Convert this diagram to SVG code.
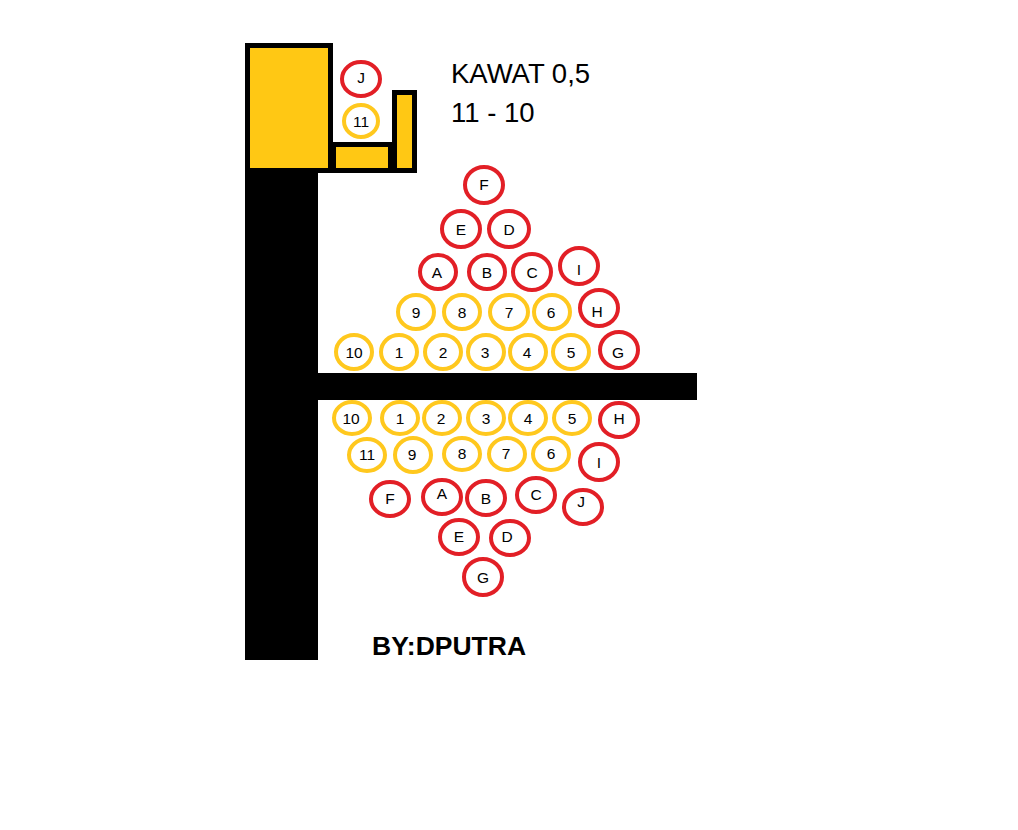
<svg xmlns="http://www.w3.org/2000/svg" width="1018" height="830" viewBox="0 0 1018 830">
<style>
.y{fill:none;stroke:#ffc81e;stroke-width:4}
.r{fill:none;stroke:#e21f26;stroke-width:4}
.t{font-family:"Liberation Sans",Arial,sans-serif;font-size:15.5px;fill:#000;text-anchor:middle;dominant-baseline:central}
.h{font-family:"Liberation Sans",Arial,sans-serif;font-size:27.5px;fill:#000}
</style>
<rect width="1018" height="830" fill="#fff"/>
<g id="frame">
<rect x="245" y="172" width="73" height="488" fill="#000"/>
<rect x="318" y="373" width="379" height="27" fill="#000"/>
<rect x="247.5" y="45.5" width="83" height="125" fill="#ffc814" stroke="#000" stroke-width="5"/>
<rect x="333.5" y="144.5" width="57" height="26" fill="#ffc814" stroke="#000" stroke-width="5"/>
<rect x="394.5" y="92.5" width="20" height="78" fill="#ffc814" stroke="#000" stroke-width="5"/>
</g>
<g id="title">
<text class="h" x="451" y="83">KAWAT 0,5</text>
<text class="h" x="451" y="122">11 - 10</text>
<text class="h" x="372" y="655" style="font-weight:bold;font-size:26.5px">BY:DPUTRA</text>
</g>
<g id="top-spare">
<g id="tJ"><ellipse class="r" cx="361" cy="79" rx="19" ry="17"/><text class="t" x="361" y="77">J</text></g>
<g id="t11"><ellipse class="y" cx="361" cy="121" rx="17" ry="16"/><text class="t" x="361" y="121">11</text></g>
</g>
<g id="upper">
<g id="uF"><ellipse class="r" cx="484" cy="185" rx="19" ry="18"/><text class="t" x="484" y="184">F</text></g>
<g id="uE"><ellipse class="r" cx="461" cy="229" rx="19" ry="18"/><text class="t" x="461" y="229">E</text></g>
<g id="uD"><ellipse class="r" cx="509" cy="229" rx="20" ry="18"/><text class="t" x="509" y="229">D</text></g>
<g id="uA"><ellipse class="r" cx="438" cy="272" rx="18" ry="17"/><text class="t" x="437" y="272">A</text></g>
<g id="uB"><ellipse class="r" cx="487" cy="272" rx="18" ry="17"/><text class="t" x="487" y="272">B</text></g>
<g id="uC"><ellipse class="r" cx="532" cy="272" rx="19" ry="18"/><text class="t" x="532" y="272">C</text></g>
<g id="uI"><ellipse class="r" cx="579" cy="266" rx="19" ry="18"/><text class="t" x="579" y="269">I</text></g>
<g id="u9"><ellipse class="y" cx="416" cy="312" rx="18" ry="17"/><text class="t" x="416" y="312">9</text></g>
<g id="u8"><ellipse class="y" cx="462" cy="312" rx="18" ry="17"/><text class="t" x="462" y="312">8</text></g>
<g id="u7"><ellipse class="y" cx="509" cy="312" rx="19" ry="17"/><text class="t" x="509" y="312">7</text></g>
<g id="u6"><ellipse class="y" cx="552" cy="312" rx="18" ry="17"/><text class="t" x="551" y="312">6</text></g>
<g id="uH"><ellipse class="r" cx="599" cy="308" rx="19" ry="18"/><text class="t" x="597" y="311">H</text></g>
<g id="u10"><ellipse class="y" cx="354" cy="352" rx="18" ry="17"/><text class="t" x="354" y="352">10</text></g>
<g id="u1"><ellipse class="y" cx="399" cy="352" rx="18" ry="17"/><text class="t" x="399" y="352">1</text></g>
<g id="u2"><ellipse class="y" cx="443" cy="352" rx="18" ry="17"/><text class="t" x="443" y="352">2</text></g>
<g id="u3"><ellipse class="y" cx="486" cy="352" rx="18" ry="17"/><text class="t" x="485" y="352">3</text></g>
<g id="u4"><ellipse class="y" cx="528" cy="352" rx="18" ry="17"/><text class="t" x="527" y="352">4</text></g>
<g id="u5"><ellipse class="y" cx="571" cy="352" rx="18" ry="17"/><text class="t" x="571" y="352">5</text></g>
<g id="uG"><ellipse class="r" cx="619" cy="350" rx="19" ry="18"/><text class="t" x="618" y="352">G</text></g>
</g>
<g id="lower">
<g id="l10"><ellipse class="y" cx="352" cy="418" rx="18" ry="16"/><text class="t" x="351" y="418">10</text></g>
<g id="l1"><ellipse class="y" cx="400" cy="418" rx="18" ry="16"/><text class="t" x="400" y="418">1</text></g>
<g id="l2"><ellipse class="y" cx="442" cy="418" rx="18" ry="16"/><text class="t" x="441" y="418">2</text></g>
<g id="l3"><ellipse class="y" cx="486" cy="418" rx="18" ry="16"/><text class="t" x="486" y="418">3</text></g>
<g id="l4"><ellipse class="y" cx="528" cy="418" rx="18" ry="16"/><text class="t" x="528" y="418">4</text></g>
<g id="l5"><ellipse class="y" cx="572" cy="418" rx="18" ry="16"/><text class="t" x="572" y="418">5</text></g>
<g id="lH"><ellipse class="r" cx="619" cy="420" rx="19" ry="17"/><text class="t" x="619" y="418">H</text></g>
<g id="l11"><ellipse class="y" cx="367" cy="455" rx="18" ry="16"/><text class="t" x="367" y="454">11</text></g>
<g id="l9"><ellipse class="y" cx="413" cy="455" rx="18" ry="17"/><text class="t" x="412" y="454">9</text></g>
<g id="l8"><ellipse class="y" cx="462" cy="454" rx="18" ry="16"/><text class="t" x="462" y="453">8</text></g>
<g id="l7"><ellipse class="y" cx="507" cy="454" rx="18" ry="16"/><text class="t" x="506" y="453">7</text></g>
<g id="l6"><ellipse class="y" cx="551" cy="454" rx="18" ry="16"/><text class="t" x="551" y="453">6</text></g>
<g id="lI"><ellipse class="r" cx="599" cy="462" rx="19" ry="18"/><text class="t" x="599" y="462">I</text></g>
<g id="lF"><ellipse class="r" cx="390" cy="499" rx="19" ry="17"/><text class="t" x="390" y="498">F</text></g>
<g id="lA"><ellipse class="r" cx="442" cy="497" rx="19" ry="17"/><text class="t" x="442" y="493">A</text></g>
<g id="lB"><ellipse class="r" cx="486" cy="498" rx="19" ry="17"/><text class="t" x="486" y="498">B</text></g>
<g id="lC"><ellipse class="r" cx="536" cy="495" rx="19" ry="17"/><text class="t" x="536" y="494">C</text></g>
<g id="lJ"><ellipse class="r" cx="583" cy="507" rx="19" ry="17"/><text class="t" x="581" y="501">J</text></g>
<g id="lE"><ellipse class="r" cx="459" cy="537" rx="19" ry="17"/><text class="t" x="459" y="536">E</text></g>
<g id="lD"><ellipse class="r" cx="510" cy="538" rx="19" ry="17"/><text class="t" x="507" y="536">D</text></g>
<g id="lG"><ellipse class="r" cx="483" cy="577" rx="19" ry="18"/><text class="t" x="483" y="577">G</text></g>
</g>
</svg>
